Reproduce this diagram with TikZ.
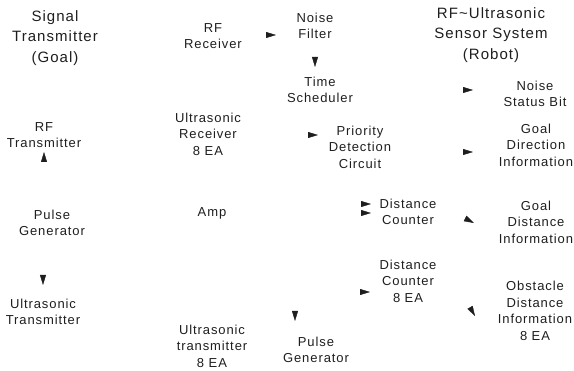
\documentclass[tikz,border=0pt]{standalone}
\usepackage{fontspec}
\setmainfont[LetterSpace=7]{Liberation Sans}
\usetikzlibrary{arrows.meta,positioning}
\definecolor{SInk}{HTML}{1E1E1E}

\begin{document}
\begin{tikzpicture}[x=1pt,y=1pt,
  every node/.style={font=\fontsize{13}{16.5}\selectfont,text=SInk,align=center,inner sep=2pt},
  head/.style={font=\fontsize{15}{20.5}\selectfont},
  arr/.style={draw=white,-{Triangle[length=10pt,width=6pt,SInk]}}
]
\useasboundingbox (0,0) rectangle (574,-371);
% goal side
\node[head] (goal) at (55,-38) {Signal\\Transmitter\\(Goal)};
\node (rftx) at (44,-135) {RF\\Transmitter};
\node (pulse) at (52,-223) {Pulse\\Generator};
\node (ustx) at (43,-312) {Ultrasonic\\Transmitter};
% robot side
\node[head] (robot) at (491,-35) {RF\textasciitilde Ultrasonic\\Sensor System\\(Robot)};
\node (rfrx) at (213,-36) {RF\\Receiver};
\node (noise) at (315,-26) {Noise\\Filter};
\node (sched) at (320,-90) {Time\\Scheduler};
\node (usrx) at (208,-134) {Ultrasonic\\Receiver\\8 EA};
\node (prio) at (360,-147) {Priority\\Detection\\Circuit};
\node (nsbit) at (535,-94) {Noise\\Status Bit};
\node (gdir) at (536,-145) {Goal\\Direction\\Information};
\node (amp) at (212,-213) {Amp};
\node (dcount) at (408,-212) {Distance\\Counter};
\node (gdist) at (536,-222) {Goal\\Distance\\Information};
\node (dcount8) at (408,-281) {Distance\\Counter\\8 EA};
\node (obst) at (535,-311) {Obstacle\\Distance\\Information\\8 EA};
\node (ustx8) at (212,-346) {Ultrasonic\\transmitter\\8 EA};
\node (pulse8) at (316,-350) {Pulse\\Generator};
% arrow heads
\coordinate (t1) at (44,-152);
\coordinate (t2) at (43,-285);
\coordinate (t3) at (276,-35);
\coordinate (t4) at (315,-67);
\coordinate (t5) at (318,-135);
\coordinate (t6) at (473,-90);
\coordinate (t7) at (473,-152);
\coordinate (t8) at (371,-204);
\coordinate (t9) at (371,-213);
\coordinate (t10) at (474,-223);
\coordinate (t11) at (370,-292);
\coordinate (t12) at (475,-316);
\coordinate (t13) at (295,-321);
\draw[arr] (pulse.north -| t1) -- (t1); \draw[arr] (pulse.south -| t2) -- (t2);
\draw[arr] (rfrx.east |- t3) -- (t3); \draw[arr] (noise.south -| t4) -- (t4);
\draw[arr] (usrx.east |- t5) -- (t5); \draw[arr] (sched.east |- t6) -- (t6);
\draw[arr] (prio.east |- t7) -- (t7); \draw[arr] (prio.south) to[out=-90,in=180] (t8);
\draw[arr] (amp.east |- t9) -- (t9); \draw[arr] (dcount.east) to[out=0,in=153] (t10);
\draw[arr] (amp.south east) to[out=0,in=180] (t11); \draw[arr] (dcount8.east) to[out=0,in=120] (t12);
\draw[arr] (sched.south -| t13) -- (t13);
\end{tikzpicture}
\end{document}
